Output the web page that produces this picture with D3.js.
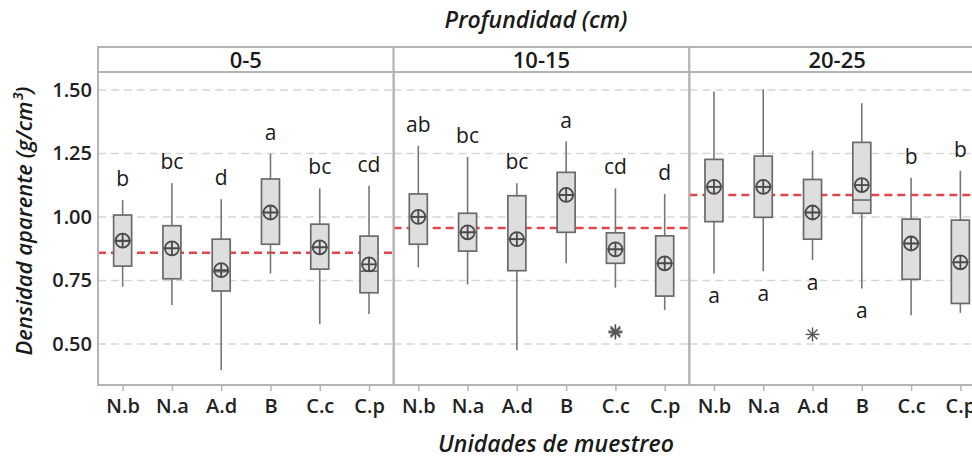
<!DOCTYPE html>
<html>
<head>
<meta charset="utf-8">
<script src="https://cdn.jsdelivr.net/npm/d3@7"></script>
<style>
  html, body { margin: 0; padding: 0; background: #fff; }
  svg { display: block; }
  text { font-family: "Open Sans", "DejaVu Sans", sans-serif; fill: #1a1a1a; }
</style>
</head>
<body>
<div id="chart"></div>
<script>
// Bulk density (g/cm³) by sampling unit, faceted by soil depth
const depths = ["0-5", "10-15", "20-25"];
const units = ["N.b", "N.a", "A.d", "B", "C.c", "C.p"];
const yTicks = [0.50, 0.75, 1.00, 1.25, 1.50];

// five-number summaries per depth (rows) and unit (columns)
const whiskerLow = [
  [0.726, 0.654, 0.398, 0.778, 0.578, 0.618],
  [0.802, 0.735, 0.476, 0.818, 0.722, 0.634],
  [0.778, 0.787, 0.831, 0.719, 0.614, 0.623]
];
const q1 = [
  [0.807, 0.757, 0.709, 0.893, 0.795, 0.702],
  [0.893, 0.866, 0.789, 0.940, 0.818, 0.689],
  [0.982, 0.999, 0.913, 1.015, 0.755, 0.660]
];
const median = [
  [0.905, 0.877, 0.785, 1.018, 0.881, 0.787],
  [1.001, 0.940, 0.913, 1.087, 0.873, 0.818],
  [1.119, 1.119, 1.018, 1.067, 0.896, 0.822]
];
const q3 = [
  [1.008, 0.966, 0.913, 1.150, 0.972, 0.925],
  [1.091, 1.015, 1.084, 1.176, 0.938, 0.926],
  [1.227, 1.240, 1.148, 1.294, 0.992, 0.988]
];
const whiskerHigh = [
  [1.067, 1.133, 1.070, 1.250, 1.113, 1.123],
  [1.280, 1.237, 1.133, 1.297, 1.113, 1.091],
  [1.494, 1.503, 1.261, 1.448, 1.155, 1.182]
];
const means = [
  [0.907, 0.877, 0.791, 1.018, 0.881, 0.814],
  [1.001, 0.940, 0.913, 1.087, 0.873, 0.818],
  [1.119, 1.119, 1.018, 1.126, 0.896, 0.822]
];
const outliers = [
  [[], [], [], [], [], []],
  [[], [], [], [], [0.545, 0.551], []],
  [[], [], [0.538], [], [], []]
];
// Tukey grouping letters and whether each sits under its lower whisker
const letters = [
  ["b", "bc", "d", "a", "bc", "cd"],
  ["ab", "bc", "bc", "a", "cd", "d"],
  ["a", "a", "a", "a", "b", "b"]
];
const letterBelow = [
  [false, false, false, false, false, false],
  [false, false, false, false, false, false],
  [true, true, true, true, false, false]
];
// overall mean per depth (red reference line)
const depthMeans = [0.860, 0.957, 1.087];

const W = 972, H = 459;
const plotLeft = 98, plotRight = 985, plotTop = 72, plotBottom = 385;
const stripTop = 47;

const svg = d3.select("#chart").append("svg")
  .attr("width", W).attr("height", H);

const y = d3.scaleLinear().domain([0.339, 1.571]).range([plotBottom, plotTop]);
const panel = d3.scaleBand().domain(depths).range([plotLeft, plotRight]).padding(0);
const x = d3.scalePoint().domain(units).range([0, panel.bandwidth()]).padding(0.5);

const frameColor = "#b4b4b4";
const boxFill = "#dedede";
const boxStroke = "#6a6a6a";
const boxW = 18;

// y axis labels
const yAxis = d3.axisLeft(y).tickValues(yTicks).tickFormat(d3.format(".2f")).tickSize(0).tickPadding(6);
const yg = svg.append("g").attr("transform", `translate(${plotLeft},0)`).call(yAxis);
yg.select(".domain").remove();
yg.selectAll("text")
  .style("font-family", "'Open Sans', sans-serif")
  .style("font-size", "20px").style("font-weight", 600).style("fill", "#222");

depths.forEach((dep, p) => {
  const x0 = panel(dep);
  const g = svg.append("g").attr("transform", `translate(${x0},0)`);
  const pw = panel.bandwidth();

  // dashed horizontal gridlines
  g.selectAll("line.grid").data(yTicks).join("line")
    .attr("class", "grid")
    .attr("x1", 0).attr("x2", pw)
    .attr("y1", d => y(d)).attr("y2", d => y(d))
    .attr("stroke", "#d6d6d6").attr("stroke-width", 1.5)
    .attr("stroke-dasharray", "8,5");

  // depth mean reference line
  g.append("line")
    .attr("x1", 0).attr("x2", pw)
    .attr("y1", y(depthMeans[p])).attr("y2", y(depthMeans[p]))
    .attr("stroke", "#e0474c").attr("stroke-width", 2.5)
    .attr("stroke-dasharray", "8,5");

  units.forEach((u, i) => {
    const cx = x(u);
    const ug = g.append("g");
    // whiskers
    ug.append("line")
      .attr("x1", cx).attr("x2", cx)
      .attr("y1", y(whiskerHigh[p][i])).attr("y2", y(q3[p][i]))
      .attr("stroke", "#777").attr("stroke-width", 1.6);
    ug.append("line")
      .attr("x1", cx).attr("x2", cx)
      .attr("y1", y(q1[p][i])).attr("y2", y(whiskerLow[p][i]))
      .attr("stroke", "#777").attr("stroke-width", 1.6);
    // box
    ug.append("rect")
      .attr("x", cx - boxW / 2).attr("width", boxW)
      .attr("y", y(q3[p][i])).attr("height", y(q1[p][i]) - y(q3[p][i]))
      .attr("fill", boxFill).attr("stroke", boxStroke).attr("stroke-width", 1.7);
    // median
    ug.append("line")
      .attr("x1", cx - boxW / 2).attr("x2", cx + boxW / 2)
      .attr("y1", y(median[p][i])).attr("y2", y(median[p][i]))
      .attr("stroke", boxStroke).attr("stroke-width", 1.6);
    // mean symbol: crossed circle
    const my = y(means[p][i]), r = 7;
    ug.append("circle").attr("cx", cx).attr("cy", my).attr("r", r)
      .attr("fill", "none").attr("stroke", "#4a4a4a").attr("stroke-width", 1.8);
    ug.append("line").attr("x1", cx - r).attr("x2", cx + r).attr("y1", my).attr("y2", my)
      .attr("stroke", "#4a4a4a").attr("stroke-width", 1.8);
    ug.append("line").attr("x1", cx).attr("x2", cx).attr("y1", my - r).attr("y2", my + r)
      .attr("stroke", "#4a4a4a").attr("stroke-width", 1.8);
    // outliers as asterisks
    outliers[p][i].forEach(v => {
      const oy = y(v), s = 7;
      const star = ug.append("g").attr("stroke", "#555").attr("stroke-width", 1.4);
      star.append("line").attr("x1", cx - s).attr("x2", cx + s).attr("y1", oy).attr("y2", oy);
      star.append("line").attr("x1", cx).attr("x2", cx).attr("y1", oy - s).attr("y2", oy + s);
      star.append("line").attr("x1", cx - s * 0.7).attr("x2", cx + s * 0.7).attr("y1", oy - s * 0.7).attr("y2", oy + s * 0.7);
      star.append("line").attr("x1", cx - s * 0.7).attr("x2", cx + s * 0.7).attr("y1", oy + s * 0.7).attr("y2", oy - s * 0.7);
    });
    // grouping letter
    const below = letterBelow[p][i];
    ug.append("text")
      .attr("x", cx)
      .attr("y", below ? y(whiskerLow[p][i]) + 30 : y(whiskerHigh[p][i]) - 14)
      .attr("text-anchor", "middle")
      .style("font-size", "21px")
      .text(letters[p][i]);
  });

  // x axis ticks and labels
  const xAxis = d3.axisBottom(x).tickSize(6).tickPadding(8);
  const xg = g.append("g").attr("transform", `translate(0,${plotBottom})`).call(xAxis);
  xg.select(".domain").remove();
  xg.selectAll("line").attr("stroke", frameColor).attr("stroke-width", 1.5);
  xg.selectAll("text")
    .style("font-family", "'Open Sans', sans-serif")
    .style("font-size", "20px").style("font-weight", 600).style("fill", "#222");

  // panel frame and strip
  g.append("rect")
    .attr("x", 0).attr("y", plotTop).attr("width", pw).attr("height", plotBottom - plotTop)
    .attr("fill", "none").attr("stroke", frameColor).attr("stroke-width", 2);
  g.append("rect")
    .attr("x", 0).attr("y", stripTop).attr("width", pw).attr("height", plotTop - stripTop)
    .attr("fill", "#fff").attr("stroke", frameColor).attr("stroke-width", 2);
  g.append("text")
    .attr("x", pw / 2).attr("y", plotTop - 4)
    .attr("text-anchor", "middle")
    .style("font-size", "22px").style("font-weight", 600)
    .text(dep);
});

// titles
svg.append("text")
  .attr("x", 536).attr("y", 28).attr("text-anchor", "middle")
  .style("font-size", "23px").style("font-style", "italic").style("font-weight", 600)
  .text("Profundidad (cm)");
svg.append("text")
  .attr("x", 556).attr("y", 452).attr("text-anchor", "middle")
  .style("font-size", "23px").style("font-style", "italic").style("font-weight", 600)
  .text("Unidades de muestreo");
svg.append("text")
  .attr("transform", "translate(32,221) rotate(-90)")
  .attr("text-anchor", "middle")
  .style("font-size", "22px").style("font-style", "italic").style("font-weight", 600)
  .text("Densidad aparente (g/cm³)");
</script>
</body>
</html>
